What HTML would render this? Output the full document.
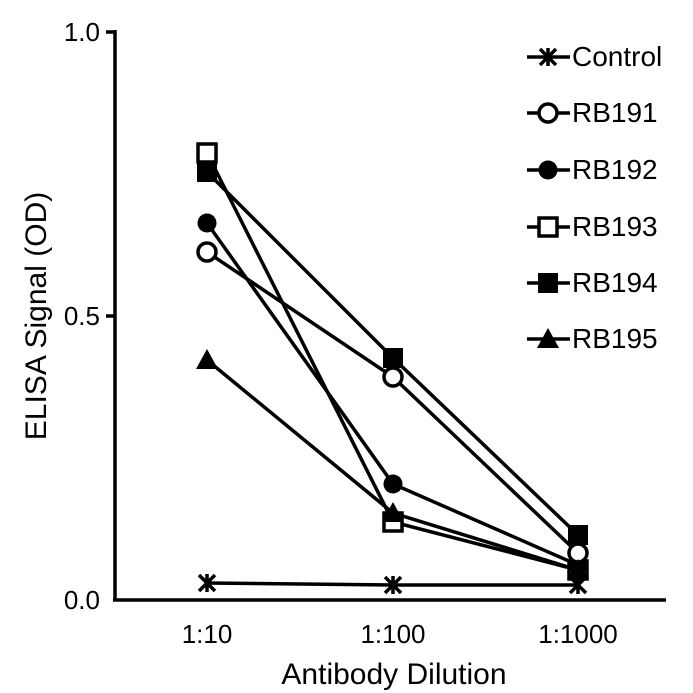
<!DOCTYPE html><html><head><style>body{margin:0;background:#fff}svg{display:block}text{font-family:"Liberation Sans",Arial,sans-serif}</style></head><body>
<svg width="693" height="693" viewBox="0 0 693 693">
<g stroke="#000" stroke-width="3.5" fill="none">
<line x1="115" y1="30" x2="115" y2="601"/><line x1="113" y1="600" x2="666" y2="600"/>
<line x1="106" y1="32" x2="115" y2="32"/><line x1="106" y1="316" x2="115" y2="316"/>
<polyline points="207,583 393,585 578,585"/>
<polyline points="207,252 393,377 578,553"/>
<polyline points="207,223 393,484 578,565"/>
<polyline points="207,153 393,522 578,570"/>
<polyline points="207,172 393,358 578,535"/>
<polyline points="207,360 393,513 578,570"/>
</g>
<g font-size="26" fill="#000">
<text x="100" y="41" text-anchor="end">1.0</text>
<text x="100" y="325" text-anchor="end">0.5</text>
<text x="100" y="609" text-anchor="end">0.0</text>
<text x="207" y="643" text-anchor="middle">1:10</text>
<text x="393" y="643" text-anchor="middle">1:100</text>
<text x="578" y="643" text-anchor="middle">1:1000</text>
</g>
<text x="394" y="684" font-size="30" text-anchor="middle">Antibody Dilution</text>
<text transform="translate(46,316) rotate(-90)" font-size="30" text-anchor="middle">ELISA Signal (OD)</text>
<defs>
<g id="x"><path d="M-8,-8L8,8M-8,8L8,-8M0,-9V9" stroke="#000" stroke-width="3.5"/></g>
<circle id="oc" r="9" fill="#fff" stroke="#000" stroke-width="3.5"/>
<circle id="fc" r="9.5" fill="#000"/>
<rect id="os" x="-9" y="-9" width="18" height="18" fill="#fff" stroke="#000" stroke-width="3.5"/>
<rect id="fs" x="-10" y="-10" width="20" height="20" fill="#000"/>
<path id="tr" d="M0,-11L11,9H-11Z" fill="#000"/>
</defs>
<use href="#x" x="207" y="583"/><use href="#x" x="393" y="585"/><use href="#x" x="578" y="585"/>
<use href="#fs" x="207" y="172"/><use href="#fs" x="393" y="358"/><use href="#fs" x="578" y="535"/>
<use href="#os" x="207" y="153"/><use href="#os" x="393" y="522"/><use href="#os" x="578" y="570"/>
<use href="#fc" x="207" y="223"/><use href="#fc" x="393" y="484"/><use href="#fc" x="578" y="565"/>
<use href="#oc" x="207" y="252"/><use href="#oc" x="393" y="377"/><use href="#oc" x="578" y="553"/>
<use href="#tr" x="207" y="360"/><use href="#tr" x="393" y="513"/><use href="#tr" x="578" y="570"/>
<g stroke="#000" stroke-width="3.5">
<line x1="527" y1="57" x2="570" y2="57"/><line x1="527" y1="113" x2="570" y2="113"/><line x1="527" y1="170" x2="570" y2="170"/>
<line x1="527" y1="227" x2="570" y2="227"/><line x1="527" y1="283" x2="570" y2="283"/><line x1="527" y1="339" x2="570" y2="339"/>
</g>
<use href="#x" x="548" y="57"/><use href="#oc" x="548" y="113"/><use href="#fc" x="548" y="170"/>
<use href="#os" x="548" y="227"/><use href="#fs" x="548" y="283"/><use href="#tr" x="548" y="339"/>
<g font-size="28">
<text x="572" y="66">Control</text><text x="572" y="122">RB191</text><text x="572" y="179">RB192</text>
<text x="572" y="236">RB193</text><text x="572" y="292">RB194</text><text x="572" y="348">RB195</text>
</g>
</svg></body></html>
